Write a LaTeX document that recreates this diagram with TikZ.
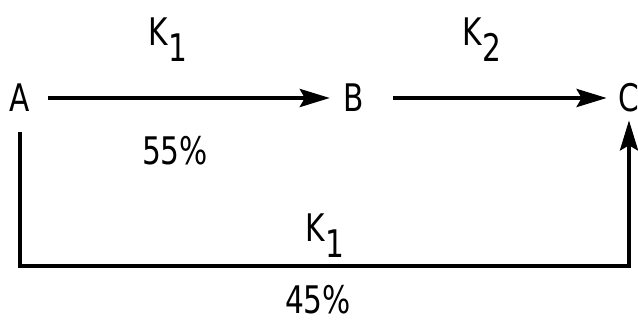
\documentclass[tikz,border=0pt]{standalone}
\usepackage{fontspec}
\usepackage{tikz}
\usetikzlibrary{arrows.meta, positioning}
\newfontfamily\diagfont{DejaVu Sans}[FakeStretch=0.78]
\newcommand{\lowidx}[1]{\raisebox{-0.42em}{#1}}

\begin{document}
\begin{tikzpicture}[x=1pt, y=-1pt, >={Stealth[length=30pt, width=18pt, inset=5pt]}, line width=4pt,
    every node/.style={font=\diagfont\fontsize{38}{40}\selectfont, inner sep=2pt}]
    \useasboundingbox (0,0) rectangle (638,326);
    \node (A) at (20,98) {A};
    \node (B) at (354,98) {B};
    \node (C) at (629,98) {C};
    \node (k1) at (168,40) {K\lowidx{1}};
    \node (k2) at (482,40) {K\lowidx{2}};
    \node (p55) at (175,151) {55\%};
    \node (k1b) at (325,236) {K\lowidx{1}};
    \node (p45) at (318,300) {45\%};
    \coordinate (base) at (0,266);

    \path[->]
        (A) edge[shorten <=14pt, shorten >=10pt] (B)
        (B) edge[shorten <=25pt, shorten >=8pt] (C);
    \draw[->, shorten <=16pt, shorten >=4pt] (A) -- (A |- base) -| (C);
\end{tikzpicture}
\end{document}
